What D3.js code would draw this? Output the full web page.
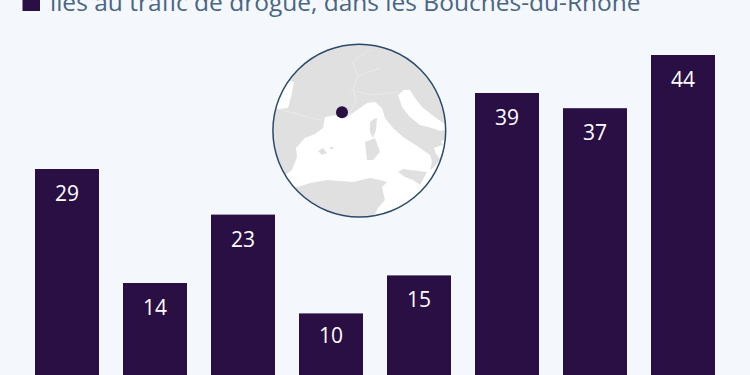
<!DOCTYPE html>
<html>
<head>
<meta charset="utf-8">
<script src="https://cdn.jsdelivr.net/npm/d3@7"></script>
<style>
body{margin:0;background:#f4f8fc;overflow:hidden;}
</style>
</head>
<body>
<div id="canvas"></div>
<script>
var w = 750;
var h = 375;

var barIds = ["a","b","c","d","e","f","g","h"];
var deaths = [29,14,23,10,15,39,37,44];
var subtitle = "liés au trafic de drogue, dans les Bouches-du-Rhône";

var svg = d3.select("#canvas").append("svg")
	.attr("width",w)
	.attr("height",h)
	.style("display","block")
	.style("background-color","#f4f8fc");

// y runs past the bottom of the window, the baseline is cut off in the picture
var yScale = d3.scaleLinear().domain([0,44]).range([389.4,55]);
var xScale = d3.scaleBand().domain(barIds).range([23,727]).paddingInner(24/88).paddingOuter(12/88);

svg.selectAll("rect.bar")
	.data(deaths)
	.join("rect")
	.attr("class","bar")
	.attr("x",function(d,i){ return xScale(barIds[i]); })
	.attr("y",function(d){ return yScale(d); })
	.attr("width",xScale.bandwidth())
	.attr("height",function(d){ return yScale(0)-yScale(d); })
	.attr("fill","#2a0f45");

svg.selectAll("text.val")
	.data(deaths)
	.join("text")
	.attr("class","val")
	.attr("x",function(d,i){ return xScale(barIds[i])+xScale.bandwidth()/2; })
	.attr("y",function(d){ return yScale(d)+(d==10 ? 30 : 32); }) // the 10 sits a bit higher in the reference
	.attr("text-anchor","middle")
	.attr("font-family","'Open Sans'")
	.attr("font-size",21)
	.attr("fill","#ffffff")
	.text(function(d){ return d; });

// legend line
svg.append("rect").attr("x",22.5).attr("y",-6).attr("width",17.5).attr("height",17).attr("fill","#2a0f45");
svg.append("text")
	.attr("x",50).attr("y",11)
	.attr("font-family","'Open Sans'")
	.attr("font-size",24.5)
	.attr("fill","#4a6585")
	.text(subtitle);

// small map in a circle
var cx = 359.3, cy = 130.6, r = 86.4;
var landColor = "#e0e0e0";
svg.append("clipPath").attr("id","globe").append("circle").attr("cx",cx).attr("cy",cy).attr("r",r);
var map = svg.append("g").attr("clip-path","url(#globe)");
map.append("circle").attr("cx",cx).attr("cy",cy).attr("r",r).attr("fill","#ffffff");

var line = d3.line().curve(d3.curveLinearClosed);
var openLine = d3.line();

var landShapes = [
	// europe, down the spanish coast, along france and round the italian boot
	[[262,40],[460,40],[460,135],[441,141],[445,150],[438,158],[430,155],[417,146],[403,137],[393,128],[385,118],[382,108],[375,102],[367,103],[357,110],[347,117],[337,115],[325,117],[323,128],[315,134],[305,138],[296,148],[297,157],[292,170],[284,176],[262,176]],
	// north africa
	[[270,192],[298,187],[310,183],[327,180],[353,182],[370,178],[380,180],[387,182],[382,187],[385,200],[378,208],[375,214],[360,222],[280,222]],
	// foot of italy
	[[430,155],[438,152],[440,160],[434,167],[430,170],[432,162]],
	// corsica, sardinia, sicily, balearics
	[[370,122],[374,119],[377,118],[376,130],[373,138],[370,132]],
	[[365,142],[375,138],[380,152],[373,160],[367,160]],
	[[398,172],[403,169],[427,172],[420,185],[413,180],[405,177]],
	[[318,151],[323,148],[327,153],[322,155]],
	[[330,147],[333,147],[333,149],[330,149]]
];
var seaShapes = [
	// atlantic above spain
	[[278,109],[288,108],[291,97],[294,82],[285,80],[266,100]],
	// adriatic
	[[398,95],[404,90],[410,90],[415,98],[422,107],[432,115],[450,128],[440,131],[432,128],[420,125],[410,117],[402,107]],
	// ionian gap under the heel
	[[434,148],[442,145],[450,152],[441,160],[436,154]]
];
var borderLines = [
	[[277,109],[290,112],[310,118],[322,120]],
	[[348,117],[356,100],[353,90],[358,76],[380,68]],
	[[350,90],[372,95],[398,92]],
	[[358,76],[352,62],[370,50]]
];

map.selectAll("path.land").data(landShapes).join("path").attr("class","land").attr("d",line).attr("fill",landColor);
map.selectAll("path.sea").data(seaShapes).join("path").attr("class","sea").attr("d",line).attr("fill","#ffffff");
map.selectAll("path.border").data(borderLines).join("path").attr("class","border").attr("d",openLine).attr("fill","none").attr("stroke","#e9e9e9").attr("stroke-width",1);

svg.append("circle").attr("cx",cx).attr("cy",cy).attr("r",r).attr("fill","none").attr("stroke","#2b4a6b").attr("stroke-width",1.5);
svg.append("circle").attr("cx",342).attr("cy",112.3).attr("r",6).attr("fill","#2a0f45");
</script>
</body>
</html>
